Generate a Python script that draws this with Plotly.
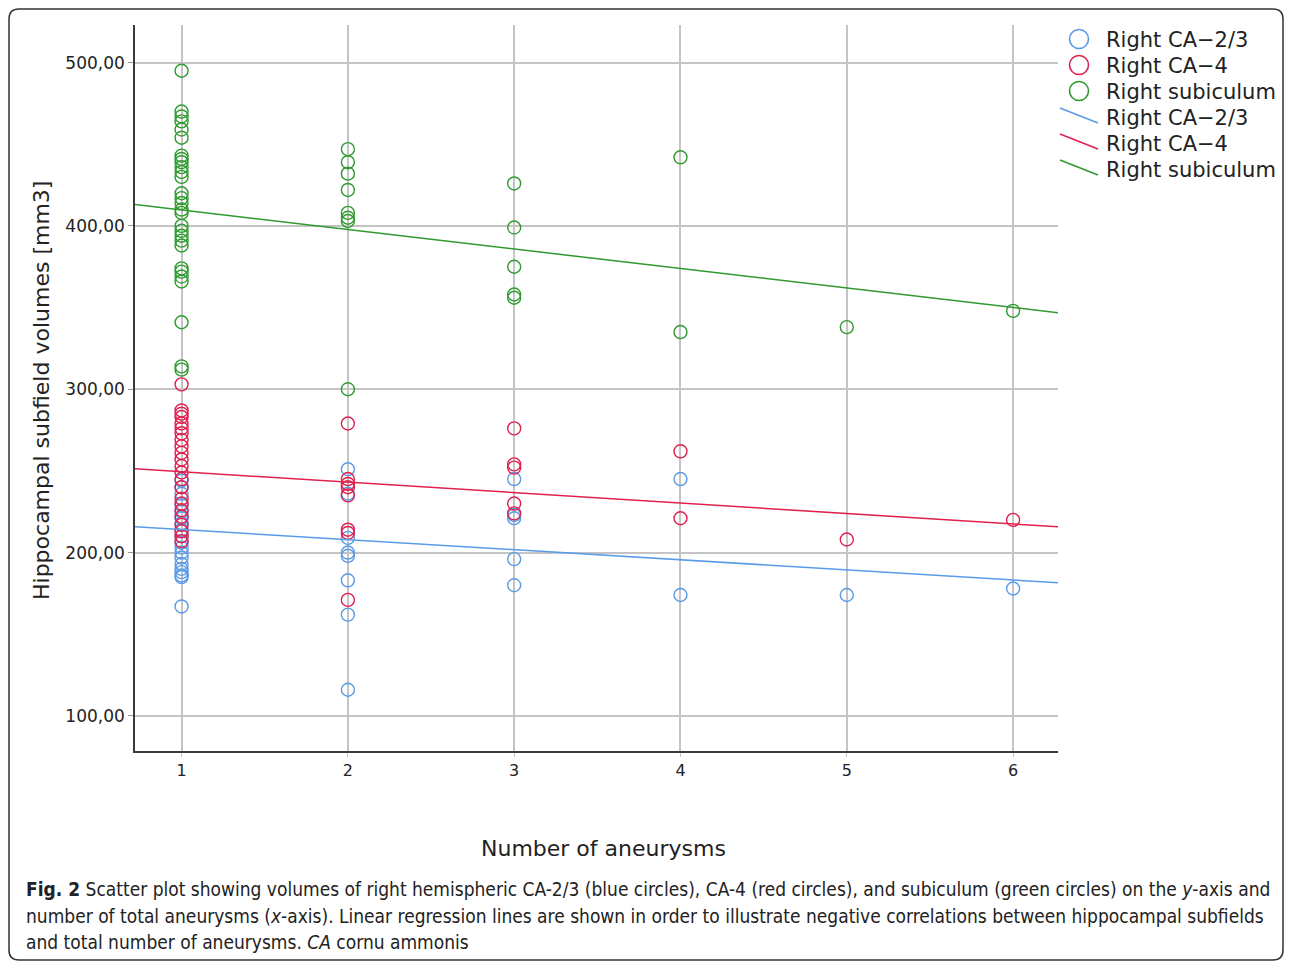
import plotly.graph_objects as go

# ---------------- data ----------------
ca23_x = [1]*19 + [2]*8 + [3]*5 + [4]*2 + [5] + [6]
ca23_y = [244, 240, 236, 229, 225, 221, 218, 214, 210, 206, 203, 200, 197, 193, 190, 188, 186, 185, 167,
          251, 236, 209, 200, 198, 183, 162, 116,
          245, 223, 221, 196, 180,
          245, 174,
          174,
          178]

ca4_x = [1]*23 + [2]*8 + [3]*5 + [4]*2 + [5] + [6]
ca4_y = [303, 287, 285, 283, 279, 276, 273, 269, 265, 261, 257, 253, 249, 245, 240, 233, 230, 226, 222, 217, 213, 210, 207,
         279, 245, 242, 240, 235, 214, 212, 171,
         276, 254, 252, 230, 224,
         262, 221,
         208,
         220]

sub_x = [1]*29 + [2]*8 + [3]*5 + [4]*2 + [5] + [6]
sub_y = [495, 470, 467, 464, 459, 454, 443, 441, 439, 436, 433, 430, 420, 417, 414, 410, 408, 400, 397, 394,
         391, 388, 374, 372, 369, 366, 341, 314, 312,
         447, 439, 432, 422, 408, 405, 403, 300,
         426, 399, 375, 358, 356,
         442, 335,
         338,
         348]

# regression lines (value at x=1 and slope)
fit_x = [0.72, 6.28]
ca23_fit = (214.1, -6.18)
ca4_fit = (249.5, -6.40)
sub_fit = (409.7, -11.92)

series_names = ["Right CA\u22122/3", "Right CA\u22124", "Right subiculum"]
colors = ["#5a9be8", "#e0204e", "#2f9a2f"]
y_ticks = [100, 200, 300, 400, 500]
x_ticks = [1, 2, 3, 4, 5, 6]

# ---------------- figure ----------------
fig = go.Figure()
pts = [(ca23_x, ca23_y), (ca4_x, ca4_y), (sub_x, sub_y)]
for (xs, ys), name, c in zip(pts, series_names, colors):
    fig.add_trace(go.Scatter(x=xs, y=ys, mode="markers", name=name, showlegend=False,
                             marker=dict(symbol="circle-open", size=13, color=c,
                                         line=dict(width=1.4, color=c))))
for (b, m), name, c in zip([ca23_fit, ca4_fit, sub_fit], series_names, colors):
    fig.add_trace(go.Scatter(x=fit_x, y=[b + m * (x - 1) for x in fit_x], mode="lines",
                             name=name, showlegend=False, line=dict(color=c, width=1.5)))

OFF = 8  # default page margin of the html body
W, H = 1292 - OFF, 962 - OFF
L, R, T, B = 135 - OFF, 1058 - OFF, 25 - OFF, 751 - OFF
pw, ph = R - L, B - T


def px(x):
    return (x - OFF - L) / pw


def py(y):
    return (B - (y - OFF)) / ph


font = "DejaVu Sans, sans-serif"
txt = "#222"
fig.update_layout(
    width=W, height=H,
    margin=dict(l=L, r=W - R, t=T, b=H - B, pad=0),
    paper_bgcolor="white", plot_bgcolor="white",
    separators=",.",
    showlegend=False,
    xaxis=dict(range=[0.72, 6.27], tickvals=x_ticks, showgrid=True, gridcolor="#c4c4c4",
               gridwidth=1.5, zeroline=False, showline=True, linecolor="#3a3a3a", linewidth=1.5,
               ticks="outside", ticklen=4, tickcolor="#c4c4c4",
               tickfont=dict(family=font, size=16, color=txt)),
    yaxis=dict(range=[78.5, 523], tickvals=y_ticks, tickformat=".2f", showgrid=True,
               gridcolor="#c4c4c4", gridwidth=1.5, zeroline=False, showline=True,
               linecolor="#3a3a3a", linewidth=1.5, ticks="outside", ticklen=5, tickcolor="#999",
               tickfont=dict(family=font, size=17, color=txt)),
)

# axis titles
fig.add_annotation(text="Number of aneurysms", x=px(603), y=py(848), xref="paper", yref="paper",
                   xanchor="center", yanchor="middle",
                   showarrow=False, font=dict(family=font, size=22, color=txt))
fig.add_annotation(text="Hippocampal subfield volumes [mm3]", x=px(41), y=py(391), xref="paper",
                   yref="paper", xanchor="center", yanchor="middle", showarrow=False, textangle=-90,
                   font=dict(family=font, size=22, color=txt))

# legend (drawn by hand to match the original layout)
leg_y = [40, 66, 92, 118, 144, 170]
for i, (name, c) in enumerate(zip(series_names, colors)):
    cy = leg_y[i] - 1
    fig.add_shape(type="circle", xref="paper", yref="paper",
                  x0=px(1069.5), x1=px(1088.5), y0=py(cy + 9.5), y1=py(cy - 9.5),
                  line=dict(color=c, width=1.6))
    fig.add_annotation(text=name, x=px(1104), y=py(leg_y[i]), xref="paper", yref="paper",
                       xanchor="left", yanchor="middle", showarrow=False,
                       font=dict(family=font, size=21, color=txt))
for i, (name, c) in enumerate(zip(series_names, colors)):
    cy = leg_y[3 + i]
    fig.add_shape(type="line", xref="paper", yref="paper",
                  x0=px(1060), x1=px(1098), y0=py(cy - 10), y1=py(cy + 5),
                  line=dict(color=c, width=1.5))
    fig.add_annotation(text=name, x=px(1104), y=py(cy), xref="paper", yref="paper",
                       xanchor="left", yanchor="middle", showarrow=False,
                       font=dict(family=font, size=21, color=txt))

# caption
cap_font = dict(family="Liberation Sans Narrow, DejaVu Sans Condensed, sans-serif", size=19, color=txt)
caption = [
    "<b>Fig. 2</b> Scatter plot showing volumes of right hemispheric CA-2/3 (blue circles), CA-4 (red circles), and subiculum (green circles) on the <i>y</i>-axis and",
    "number of total aneurysms (<i>x</i>-axis). Linear regression lines are shown in order to illustrate negative correlations between hippocampal subfields",
    "and total number of aneurysms. <i>CA</i> cornu ammonis",
]
for i, line in enumerate(caption):
    fig.add_annotation(text=line, x=px(24), y=py(889 + 26.5 * i), xref="paper", yref="paper",
                       xanchor="left", yanchor="middle", showarrow=False, font=cap_font)

# rounded border frame
x0, x1, y0, y1, r = 9, 1283, 9, 960, 10
pth = (f"M {px(x0 + r)},{py(y0)} L {px(x1 - r)},{py(y0)} Q {px(x1)},{py(y0)} {px(x1)},{py(y0 + r)} "
       f"L {px(x1)},{py(y1 - r)} Q {px(x1)},{py(y1)} {px(x1 - r)},{py(y1)} "
       f"L {px(x0 + r)},{py(y1)} Q {px(x0)},{py(y1)} {px(x0)},{py(y1 - r)} "
       f"L {px(x0)},{py(y0 + r)} Q {px(x0)},{py(y0)} {px(x0 + r)},{py(y0)} Z")
fig.add_shape(type="path", path=pth, xref="paper", yref="paper",
              line=dict(color="#333", width=1.5), layer="above")

fig.write_html("out.html")
